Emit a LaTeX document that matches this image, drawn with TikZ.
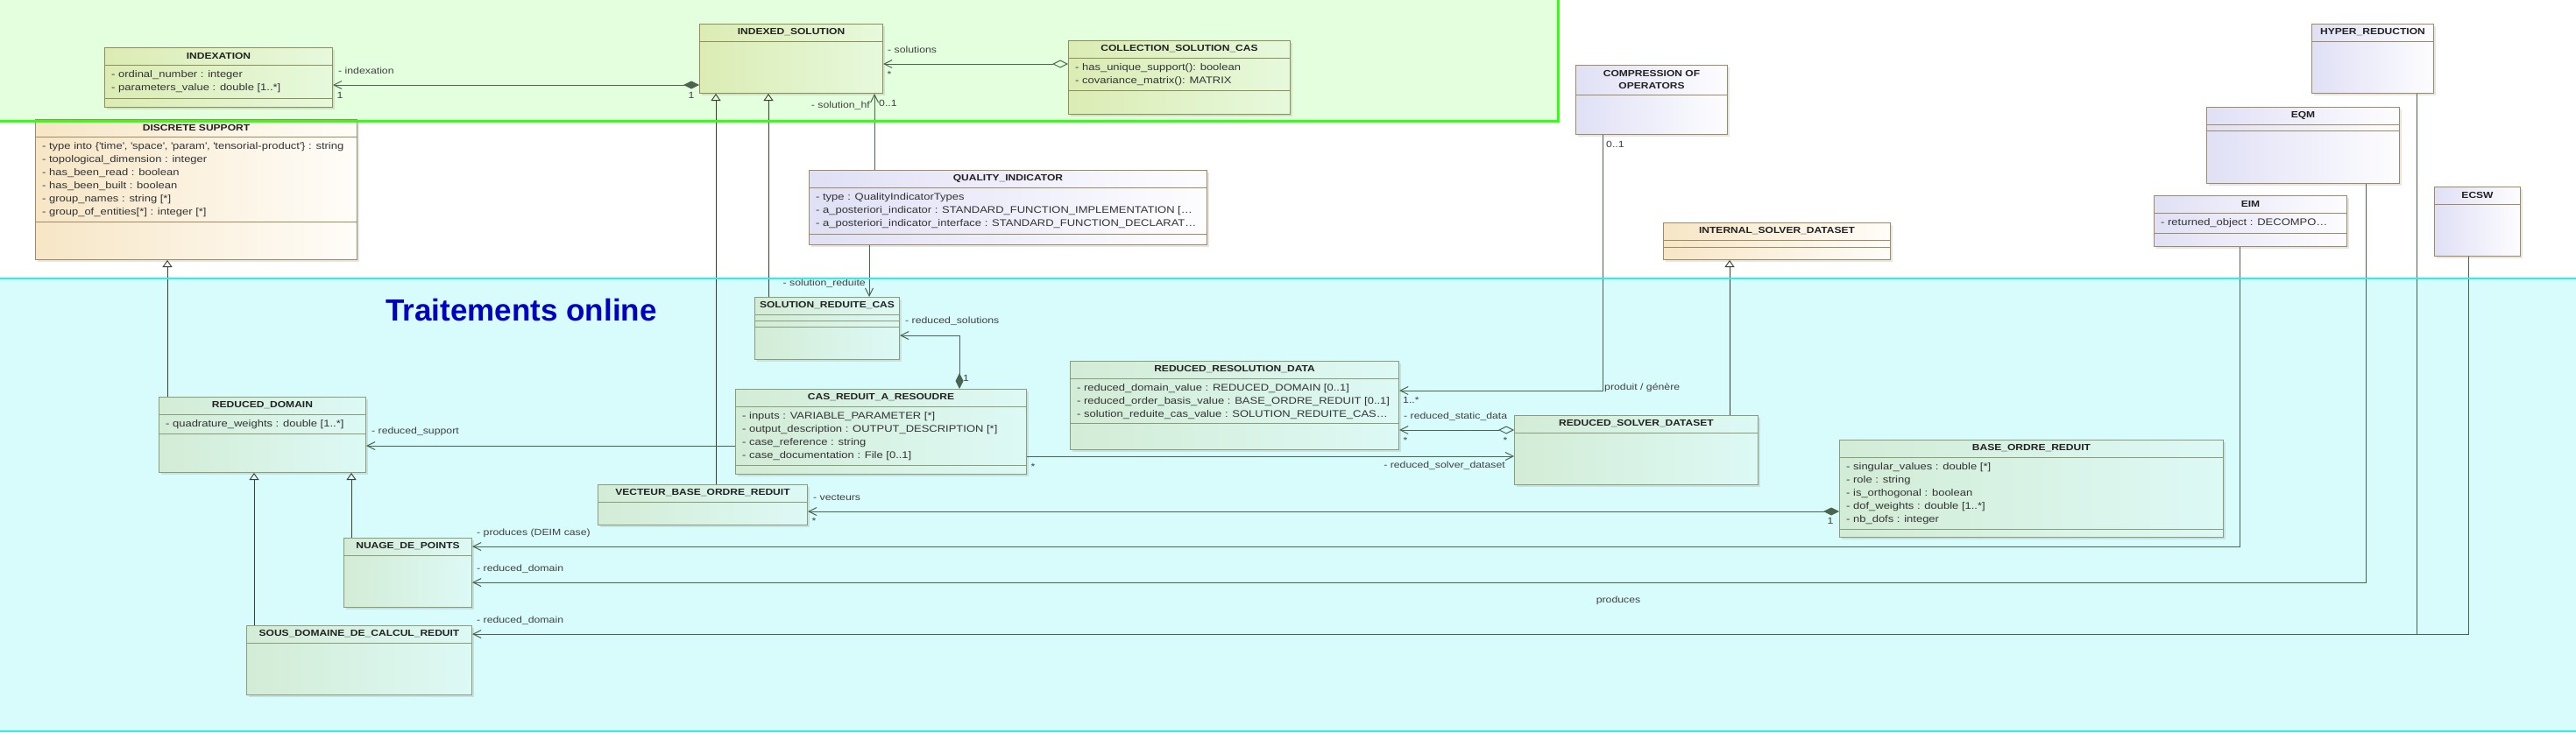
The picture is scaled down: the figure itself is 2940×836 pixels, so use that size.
\documentclass[tikz,border=0pt]{standalone}
\usepackage{fontspec}
\setmainfont{Liberation Sans}[FakeStretch=1.18]
\newfontfamily\titrefont{Liberation Sans}
\usetikzlibrary{arrows.meta,shadows}

\definecolor{zonevert}{HTML}{E3FFDD}
\definecolor{bordvert}{HTML}{33FF11}
\definecolor{zonecyan}{HTML}{D8FBFC}
\definecolor{bordcyan}{HTML}{22F5F0}
\definecolor{olivea}{HTML}{DCECB4}
\definecolor{oliveb}{HTML}{E6F9DC}
\definecolor{olivebd}{HTML}{8E8E58}
\definecolor{beigea}{HTML}{F7E6C6}
\definecolor{beigeb}{HTML}{FFFDF9}
\definecolor{brunbd}{HTML}{A08A62}
\definecolor{lavea}{HTML}{E0E0F6}
\definecolor{laveb}{HTML}{FDFDFF}
\definecolor{menthea}{HTML}{D3ECD6}
\definecolor{mentheb}{HTML}{DDF9F5}
\definecolor{menthebd}{HTML}{8A9C7A}
\definecolor{coullien}{HTML}{4A6450}
\definecolor{genl}{HTML}{3C3C30}
\definecolor{nomcl}{HTML}{222222}
\definecolor{texte}{HTML}{333333}
\definecolor{etiq}{HTML}{404040}
\definecolor{titrebleu}{HTML}{0000C0}

\tikzset{
  classe/.style={line width=1pt, drop shadow={shadow xshift=2pt, shadow yshift=-2pt, opacity=.2}},
  olive/.style={classe, draw=olivebd, left color=olivea, right color=oliveb},
  olive sep/.style={draw=olivebd, line width=1pt},
  beige/.style={classe, draw=brunbd, left color=beigea, right color=beigeb},
  beige sep/.style={draw=brunbd, line width=1pt},
  lavande/.style={classe, draw=brunbd, left color=lavea, right color=laveb},
  lavande sep/.style={draw=brunbd, line width=1pt},
  menthe/.style={classe, draw=menthebd, left color=menthea, right color=mentheb},
  menthe sep/.style={draw=menthebd, line width=1pt},
  clstitle/.style={font=\fontsize{10.2}{14}\selectfont\bfseries, text=nomcl, inner sep=0pt, align=center},
  attr/.style={font=\fontsize{11}{15}\selectfont, text=texte, inner sep=0pt, text height=8pt, text depth=2.5pt},
  lbl/.style={font=\fontsize{10.4}{13}\selectfont, text=etiq, inner sep=0pt, text height=8pt, text depth=2.5pt},
  lien/.style={draw=coullien, line width=1pt},
  barb/.style={-{Straight Barb[length=9pt, width=9pt, line width=1pt]}},
  compo/.style={{Diamond[length=18pt, width=9pt]}-{Straight Barb[length=9pt, width=9pt, line width=1pt]}},
  agreg/.style={{Diamond[open, length=18pt, width=9pt, line width=1pt]}-{Straight Barb[length=9pt, width=9pt, line width=1pt]}},
  herite/.style={draw=genl, line width=0.8pt, -{Triangle[open, length=8pt, width=11pt, line width=0.9pt]}},
}

% [header height]{kind}{name}{x,y}{w}{h}{title}
\newcommand{\umlclass}[7][20]{%
  \node[#2, minimum width=#5pt, minimum height=#6pt, anchor=north west] (#3) at (#4) {};
  \node[clstitle] (#3-t) at ([yshift=-#1pt/2]#3.north) {#7};
  \draw[#2 sep] ([yshift=-#1pt]#3.north west) -- ([yshift=-#1pt]#3.north east);
}
\newcommand{\sepat}[3]{\draw[#1 sep] ([yshift=-#3pt]#2.north west) -- ([yshift=-#3pt]#2.north east);}
\newcommand{\attrs}[2]{%
  \foreach \att [count=\k] in {#2}
    \node[attr, anchor=west] (#1-a\k) at ([xshift=8pt, yshift={-32pt-15pt*(\k-1)}]#1.north west) {\att};
}
\newcommand{\qt}[1]{\textquotesingle#1\textquotesingle}

\begin{document}
\begin{tikzpicture}[x=1pt, y=-1pt]
\useasboundingbox (0,0) rectangle (2940,836);
\fill[zonevert] (0,0) rectangle (1778,138);
\fill[zonecyan] (0,318) rectangle (2940,836);

\node[font=\titrefont\fontsize{35}{40}\selectfont\bfseries, text=titrebleu, inner sep=0pt] (online) at (595,354) {Traitements online};

% classes
\umlclass{olive}{indexation}{119,54}{260}{68}{INDEXATION}
\attrs{indexation}{- ordinal\_number : integer, - parameters\_value : double [1..*]}
\sepat{olive}{indexation}{58}
\umlclass{olive}{indexsol}{798,27}{209}{79}{INDEXED\_SOLUTION}
\umlclass{olive}{collection}{1219,46}{253}{84}{COLLECTION\_SOLUTION\_CAS}
\attrs{collection}{- has\_unique\_support(): boolean, - covariance\_matrix(): MATRIX}
\sepat{olive}{collection}{57}
\umlclass{beige}{discrete}{40,136}{367}{160}{DISCRETE SUPPORT}
\attrs{discrete}{{- type into \{\qt{time}, \qt{space}, \qt{param}, \qt{tensorial-product}\} : string}, - topological\_dimension : integer, - has\_been\_read : boolean, - has\_been\_built : boolean, - group\_names : string [*], - group\_of\_entities[*] : integer [*]}
\sepat{beige}{discrete}{117}
\umlclass{lavande}{quality}{923,194}{454}{85}{QUALITY\_INDICATOR}
\attrs{quality}{- type : QualityIndicatorTypes, - a\_posteriori\_indicator : STANDARD\_FUNCTION\_IMPLEMENTATION [\ldots, - a\_posteriori\_indicator\_interface : STANDARD\_FUNCTION\_DECLARAT\ldots}
\sepat{lavande}{quality}{73}
\umlclass[34]{lavande}{compression}{1798,74}{173}{79}{COMPRESSION OF\\OPERATORS}
\umlclass{beige}{internal}{1898,254}{259}{42}{INTERNAL\_SOLVER\_DATASET}
\sepat{beige}{internal}{28}
\umlclass{lavande}{hyper}{2638,27}{139}{79}{HYPER\_REDUCTION}
\umlclass{lavande}{eqm}{2518,122}{220}{87}{EQM}
\sepat{lavande}{eqm}{27}
\umlclass{lavande}{eim}{2458,223}{220}{58}{EIM}
\attrs{eim}{- returned\_object : DECOMPO\ldots}
\sepat{lavande}{eim}{43}
\umlclass{lavande}{ecsw}{2778,213}{98}{79}{ECSW}

\umlclass{menthe}{solred}{861,339}{165}{71}{SOLUTION\_REDUITE\_CAS}
\sepat{menthe}{solred}{27}
\sepat{menthe}{solred}{34}
\umlclass{menthe}{reddom}{181,453}{236}{86}{REDUCED\_DOMAIN}
\attrs{reddom}{- quadrature\_weights : double [1..*]}
\sepat{menthe}{reddom}{42}
\umlclass{menthe}{casreduit}{839,444}{332}{97}{CAS\_REDUIT\_A\_RESOUDRE}
\attrs{casreduit}{- inputs : VARIABLE\_PARAMETER [*], - output\_description : OUTPUT\_DESCRIPTION [*], - case\_reference : string, - case\_documentation : File [0..1]}
\sepat{menthe}{casreduit}{87}
\umlclass{menthe}{rrd}{1221,412}{375}{101}{REDUCED\_RESOLUTION\_DATA}
\attrs{rrd}{- reduced\_domain\_value : REDUCED\_DOMAIN [0..1], - reduced\_order\_basis\_value : BASE\_ORDRE\_REDUIT [0..1], - solution\_reduite\_cas\_value : SOLUTION\_REDUITE\_CAS\ldots}
\sepat{menthe}{rrd}{71}
\umlclass{menthe}{redsolver}{1728,474}{278}{79}{REDUCED\_SOLVER\_DATASET}
\umlclass{menthe}{base}{2099,502}{438}{111}{BASE\_ORDRE\_REDUIT}
\attrs{base}{- singular\_values : double [*], - role : string, - is\_orthogonal : boolean, - dof\_weights : double [1..*], - nb\_dofs : integer}
\sepat{menthe}{base}{102}
\umlclass{menthe}{vecteur}{682,553}{239}{46}{VECTEUR\_BASE\_ORDRE\_REDUIT}
\umlclass{menthe}{nuage}{392,614}{146}{79}{NUAGE\_DE\_POINTS}
\umlclass{menthe}{sousdom}{281,714}{257}{79}{SOUS\_DOMAINE\_DE\_CALCUL\_REDUIT}

% generalisations
\draw[herite] (solred.north -| 877,0) -- (indexsol.south -| 877,0);
\draw[herite] (vecteur.north -| 817,0) -- (indexsol.south -| 817,0);
\draw[herite] (reddom.north -| 191,0) -- (discrete.south -| 191,0);
\draw[herite] (nuage.north -| 401,0) -- (reddom.south -| 401,0);
\draw[herite] (sousdom.north -| 290,0) -- (reddom.south -| 290,0);
\draw[herite] (redsolver.north -| 1974,0) -- (internal.south -| 1974,0);

% associations
\draw[lien, compo] (indexsol.west |- 0,97) -- (indexation.east |- 0,97);
\draw[lien, agreg] (collection.west |- 0,73) -- (indexsol.east |- 0,73);
\draw[lien, barb] (quality.north -| 998,0) -- (indexsol.south -| 998,0);
\draw[lien, barb] (quality.south -| 992,0) -- (solred.north -| 992,0);
\draw[lien, compo] (casreduit.north -| 1095,0) |- (solred.east |- 0,383);
\draw[lien, barb] (casreduit.west |- 0,509) -- (reddom.east |- 0,509);
\draw[lien, barb] (casreduit.east |- 0,521) -- (redsolver.west |- 0,521);
\draw[lien, barb, line width=0.8pt] (compression.south -| 1829,0) |- (rrd.east |- 0,446);
\draw[lien, agreg] (redsolver.west |- 0,491) -- (rrd.east |- 0,491);
\draw[lien, compo] (base.west |- 0,584) -- (vecteur.east |- 0,584);
\draw[lien, barb] (eim.south -| 2556,0) |- (nuage.east |- 0,624);
\draw[lien, barb] (eqm.south -| 2700,0) |- (nuage.east |- 0,665);
\draw[lien, barb] (ecsw.south -| 2817,0) |- (sousdom.east |- 0,724);
\coordinate (jonction) at (2758,724);
\draw[lien] (hyper.south -| 2758,0) -- (jonction);

% etiquettes
\node[lbl, anchor=west] (l-indexation) at (386,82) {- indexation};
\node[lbl] (m-indexation) at (388,110) {1};
\node[lbl] (m-indexsol) at (789,110) {1};
\node[lbl, anchor=west] (l-solutions) at (1013,58) {- solutions};
\node[lbl] (m-solutions) at (1015,86) {*};
\node[lbl, anchor=east] (l-solhf) at (993,121) {- solution\_hf};
\node[lbl, anchor=west] (m-solhf) at (1003,119) {0..1};
\node[lbl, anchor=east] (l-solred) at (988,324) {- solution\_reduite};
\node[lbl, anchor=west] (l-redsol) at (1033,367) {- reduced\_solutions};
\node[lbl, anchor=west] (m-redsol) at (1099,433) {1};
\node[lbl, anchor=west] (l-support) at (424,493) {- reduced\_support};
\node[lbl] (m-solver) at (1179,534) {*};
\node[lbl, anchor=east] (l-solver) at (1718,532) {- reduced\_solver\_dataset};
\node[lbl, anchor=west] (m-compr) at (1833,166) {0..1};
\node[lbl, anchor=west] (l-produit) at (1831,443) {produit / génère};
\node[lbl, anchor=west] (m-produit) at (1601,458) {1..*};
\node[lbl, anchor=west] (l-static) at (1602,476) {- reduced\_static\_data};
\node[lbl] (m-static1) at (1604,504) {*};
\node[lbl] (m-static2) at (1718,504) {*};
\node[lbl, anchor=west] (l-vecteurs) at (928,569) {- vecteurs};
\node[lbl] (m-vecteurs) at (929,596) {*};
\node[lbl] (m-base) at (2089,596) {1};
\node[lbl, anchor=west] (l-deim) at (544,609) {- produces (DEIM case)};
\node[lbl, anchor=west] (l-domain1) at (544,650) {- reduced\_domain};
\node[lbl, anchor=west] (l-domain2) at (544,709) {- reduced\_domain};
\node[lbl] (l-produces) at (1847,686) {produces};

% bords des zones
\draw[bordvert, line width=3pt] (0,138) -- (1778,138) -- (1778,-2);
\draw[bordcyan, line width=2.5pt] (0,318) -- (2940,318);
\draw[bordcyan, line width=2.5pt] (0,835) -- (2940,835);
\end{tikzpicture}
\end{document}
